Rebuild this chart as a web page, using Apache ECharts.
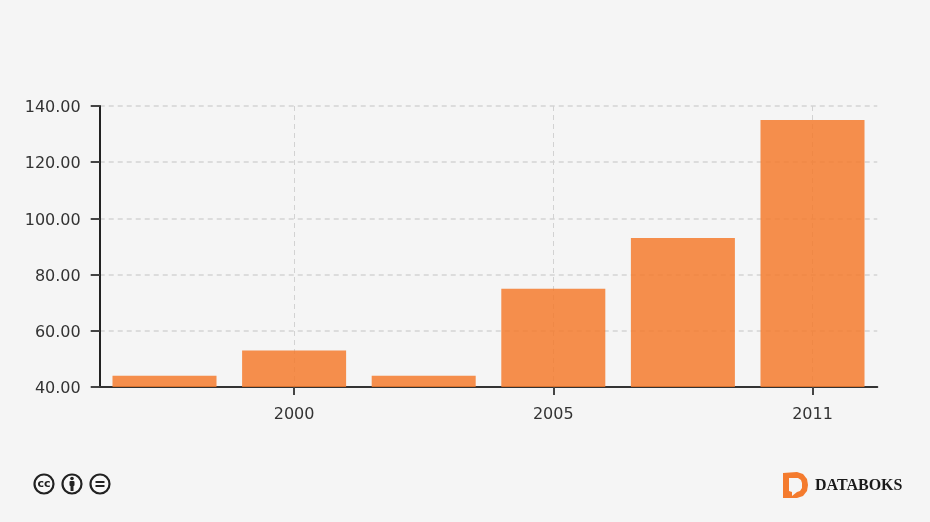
<!DOCTYPE html>
<html>
<head>
<meta charset="utf-8">
<style>
  html, body { margin: 0; padding: 0; background: #f5f5f5; }
  #chart { width: 930px; height: 522px; }
</style>
</head>
<body>
<div id="chart"></div>
<script src="https://cdn.jsdelivr.net/npm/echarts@6/dist/echarts.min.js"></script>
<script>
const categories = ['1998', '2000', '2003', '2005', '2008', '2011']
const shownYears = ['2000', '2005', '2011']
const values = [44, 53, 44, 75, 93, 135]
const yTicks = { min: 40, max: 140, step: 20 }

const FONT = '"DejaVu Sans", sans-serif'
const ORANGE = '#f47b2e'
const isShown = (idx, name) => shownYears.includes(name)

// small CC badge: a ring with something inside it
function ring (cx) {
  return {
    type: 'circle',
    shape: { cx, cy: 484, r: 9.5 },
    style: { fill: '#f8f8f8', stroke: '#222', lineWidth: 2.2 }
  }
}

const badges = [
  ring(44),
  { type: 'text', style: { x: 44, y: 484, text: 'cc', font: 'bold 11px ' + FONT, fill: '#222', align: 'center', verticalAlign: 'middle' } },
  ring(72),
  { type: 'circle', shape: { cx: 72, cy: 478.5, r: 1.8 }, style: { fill: '#222' } },
  { type: 'rect', shape: { x: 69.5, y: 481, width: 5, height: 5, r: 1 }, style: { fill: '#222' } },
  { type: 'rect', shape: { x: 70.5, y: 485, width: 3, height: 6 }, style: { fill: '#222' } },
  ring(100),
  { type: 'rect', shape: { x: 95.5, y: 481, width: 9, height: 2 }, style: { fill: '#222' } },
  { type: 'rect', shape: { x: 95.5, y: 485, width: 9, height: 2 }, style: { fill: '#222' } }
]

const logo = [
  {
    type: 'polygon',
    shape: { points: [[783, 473], [797, 472], [803, 474], [807, 479], [808, 485], [807, 491], [803, 496], [797, 498], [783, 498]] },
    style: { fill: ORANGE }
  },
  {
    type: 'polygon',
    shape: { points: [[789, 478], [798, 478], [801, 480], [802, 483], [802, 488], [800, 491], [797, 492], [792, 496], [792, 492], [789, 491]] },
    style: { fill: '#f5f5f5' }
  },
  {
    type: 'text',
    style: { x: 815, y: 486, text: 'DATABOKS', font: 'bold 16px "Liberation Serif", serif', fill: '#1a1a1a', verticalAlign: 'middle' }
  }
]

const chart = echarts.init(document.getElementById('chart'), null, { renderer: 'canvas' })
chart.setOption({
  backgroundColor: '#f5f5f5',
  animation: false,
  grid: { left: 99.7, right: 52.7, top: 106, bottom: 135 },
  xAxis: {
    type: 'category',
    data: categories,
    axisLine: { lineStyle: { color: '#333', width: 2 } },
    axisTick: { show: true, alignWithLabel: true, interval: isShown, length: 8, lineStyle: { color: '#444', width: 2 } },
    axisLabel: { interval: isShown, color: '#333', fontFamily: FONT, fontSize: 16, margin: 20 },
    splitLine: {
      show: true,
      alignWithLabel: true,
      interval: isShown,
      lineStyle: { color: '#d2d2d2', type: [5, 4], width: 1 }
    }
  },
  yAxis: {
    type: 'value',
    min: yTicks.min,
    max: yTicks.max,
    interval: yTicks.step,
    axisLine: { show: true, lineStyle: { color: '#222', width: 2 } },
    axisTick: { show: true, length: 9, lineStyle: { color: '#444', width: 2 } },
    axisLabel: {
      color: '#333',
      fontFamily: FONT,
      fontSize: 16,
      margin: 19,
      verticalAlign: 'top',
      lineHeight: 4,
      formatter: v => v.toFixed(2)
    },
    splitLine: { show: true, lineStyle: { color: '#dcdcdc', type: [5, 4], width: 2 } }
  },
  series: [{
    type: 'bar',
    data: values,
    barWidth: 104,
    itemStyle: { color: ORANGE, opacity: 0.85 }
  }],
  graphic: { elements: badges.concat(logo).map(el => Object.assign({ silent: true }, el)) }
})
</script>
</body>
</html>
